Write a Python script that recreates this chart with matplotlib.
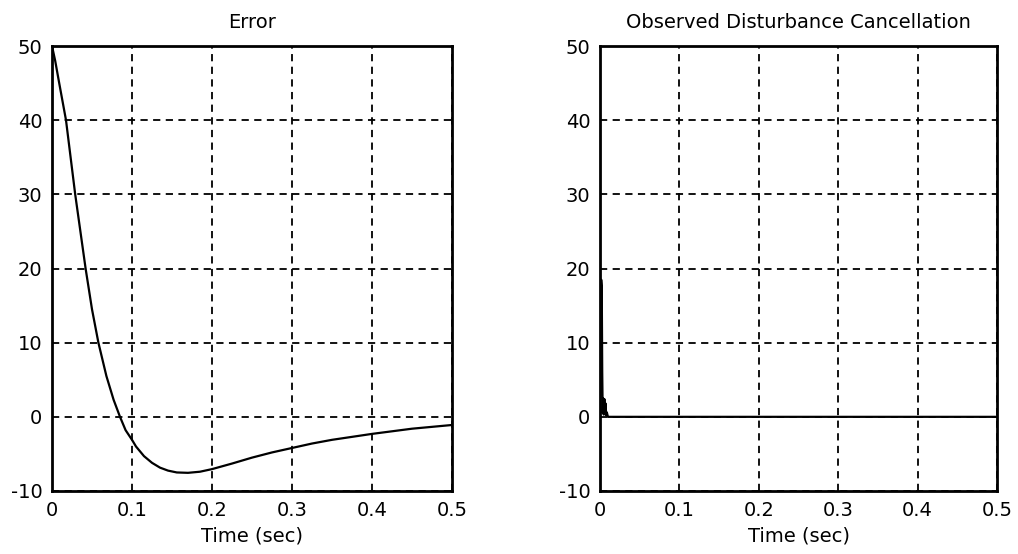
import matplotlib
matplotlib.use("Agg")
import matplotlib.pyplot as plt
import numpy as np

# Left panel: Error
t_err = [0.0, 0.004, 0.009, 0.0175, 0.029, 0.042, 0.050, 0.058, 0.068, 0.077, 0.085,
         0.092, 0.100, 0.105, 0.115, 0.125, 0.135, 0.145, 0.156, 0.170, 0.185,
         0.200, 0.225, 0.250, 0.275, 0.300, 0.325, 0.350, 0.375, 0.400, 0.425,
         0.450, 0.475, 0.500]
v_err = [50.0, 48.0, 45.0, 40.0, 30.0, 20.0, 14.5, 10.0, 5.5, 2.3, 0.0,
         -1.8, -3.1, -4.0, -5.3, -6.2, -6.85, -7.25, -7.5, -7.55, -7.4,
         -7.05, -6.3, -5.5, -4.8, -4.2, -3.6, -3.1, -2.7, -2.3, -1.95,
         -1.6, -1.35, -1.1]

# Right panel: Observed Disturbance Cancellation
t_dist = [0.0, 0.0015, 0.0022, 0.0028, 0.0034, 0.004, 0.0048, 0.0055, 0.0062,
          0.007, 0.0078, 0.0086, 0.010, 0.5]
v_dist = [0.0, 18.5, 17.5, 6.0, 0.5, 2.5, 0.3, 2.4, 0.4, 1.8, 0.2, 0.6, 0.0, 0.0]

titles = ["Error", "Observed Disturbance Cancellation"]
xlabel = "Time (sec)"
xticks = [0, 0.1, 0.2, 0.3, 0.4, 0.5]
xticklabels = ["0", "0.1", "0.2", "0.3", "0.4", "0.5"]
yticks = [-10, 0, 10, 20, 30, 40, 50]
yticklabels = ["-10", "0", "10", "20", "30", "40", "50"]

fig = plt.figure(figsize=(10.18, 5.54), dpi=100)
W, H = 1018, 554
ax1 = fig.add_axes([52 / W, (H - 491) / H, 400 / W, 445 / H])
ax2 = fig.add_axes([600 / W, (H - 491) / H, 397 / W, 445 / H])

for ax, title, (tx, vy) in zip([ax1, ax2], titles, [(t_err, v_err), (t_dist, v_dist)]):
    ax.plot(tx, vy, color="black", linewidth=1.6)
    ax.set_xlim(0, 0.5)
    ax.set_ylim(-10, 50)
    ax.set_xticks(xticks)
    ax.set_xticklabels(xticklabels)
    ax.set_yticks(yticks)
    ax.set_yticklabels(yticklabels)
    ax.grid(True, color="black", linestyle=(0, (4, 3)), linewidth=1.3)
    ax.set_axisbelow(True)
    for sp in ax.spines.values():
        sp.set_color("black")
        sp.set_linewidth(2.0)
    ax.tick_params(direction="in", length=0, labelsize=14, pad=7, colors="black")
    ax.set_title(title, fontsize=14, pad=13)
    ax.set_xlabel(xlabel, fontsize=14, labelpad=5)

fig.savefig("out.png", dpi=100, facecolor="white")
